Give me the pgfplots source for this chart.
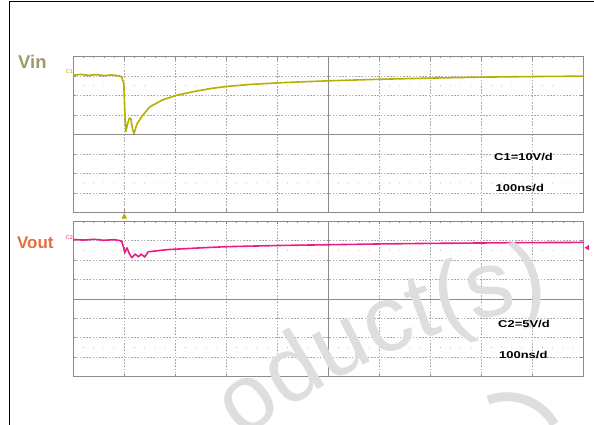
\documentclass[border=0pt]{standalone}
\usepackage{pgfplots}
\pgfplotsset{compat=1.18}
\usetikzlibrary{decorations.text}
\usepackage{fontspec}
\setmainfont{Liberation Sans}
\newfontfamily\scopefont[FakeStretch=1.3]{Liberation Sans}

\definecolor{trYel}{HTML}{B5B000}
\definecolor{trPink}{HTML}{EE1C82}
\definecolor{vinCol}{HTML}{9E9A68}
\definecolor{voutCol}{HTML}{E3703C}
\definecolor{gridCol}{HTML}{A8A8A8}
\definecolor{frameCol}{HTML}{8C8C8C}
\definecolor{wmCol}{HTML}{DEDEDE}

\pgfplotsset{
  scopegrid/.style={
    width=510bp, height=155.6bp, scale only axis,
    anchor=south west,
    xmin=0, xmax=10, ymin=-4, ymax=4,
    xtick={0,...,10}, ytick={-4,...,4},
    xticklabels={}, yticklabels={},
    grid=major,
    major grid style={gridCol, dash pattern=on 1.6bp off 1.6bp, line width=0.5bp},
    major tick length=3bp, tick align=inside,
    tick style={frameCol, line width=0.5bp},
    axis line style={frameCol, line width=0.8bp},
  },
  trace/.style={line width=1.6bp, line join=round},
}

% graticule details: centre cross, 0.2-div ticks on the centre line, dot rows at +-2.5 div
\newcommand{\graticule}{%
  \draw[frameCol, line width=0.6bp] (axis cs:0,0) -- (axis cs:10,0);
  \draw[frameCol, line width=0.6bp] (axis cs:5,-4) -- (axis cs:5,4);
  \pgfplotsinvokeforeach{0.2,0.4,...,9.9}{
    \draw[frameCol, line width=0.5bp] (axis cs:##1,0) ++(0,-1.6bp) -- ++(0,3.2bp);
    \fill[gridCol] (axis cs:##1,2.5) circle[radius=0.45bp];
    \fill[gridCol] (axis cs:##1,-2.5) circle[radius=0.45bp];
  }
}

\begin{document}
\begin{tikzpicture}
\useasboundingbox (0,0) rectangle (594bp,-425bp);
\fill[white] (0,0) rectangle (594bp,-425bp);
\draw[black, line width=1.2bp] (9.5bp,-425bp) -- (9.5bp,-1.5bp) -- (594bp,-1.5bp);

% ---- Vin panel ----
\begin{axis}[scopegrid, at={(73.3bp,-212.3bp)}]
  \graticule
  \addplot[trace, trYel] coordinates {
    (0,3.05) (0.15,3.09) (0.3,3.04) (0.45,3.08) (0.6,3.03) (0.75,3.06) (0.9,3.02)
    (0.95,2.95) (0.99,2.6) (1.01,1.2) (1.03,0.15) (1.07,0.6) (1.1,0.85) (1.13,0.8)
    (1.16,0.3) (1.19,0.05) (1.25,0.55) (1.35,0.95) (1.5,1.42) (1.75,1.78)
    (2.03,2.02) (2.35,2.2) (2.68,2.36) (3.0,2.47) (3.5,2.58) (4.05,2.66)
    (4.5,2.71) (5,2.76) (6,2.84) (7,2.9) (8,2.95) (9,2.98) (10,3.0)
  };
\end{axis}

% ---- Vout panel ----
\begin{axis}[scopegrid, at={(73.3bp,-376.6bp)}]
  \graticule
  \addplot[trace, trPink] coordinates {
    (0,3.05) (0.2,3.02) (0.4,3.06) (0.6,3.01) (0.8,3.04) (0.9,3.0)
    (0.95,2.95) (0.99,2.6) (1.01,2.37) (1.05,2.62) (1.08,2.45) (1.1,2.31)
    (1.15,2.11) (1.21,2.3) (1.28,2.16) (1.33,2.3) (1.4,2.15) (1.47,2.42)
    (1.58,2.45) (1.85,2.53) (2.5,2.62) (3,2.68) (4,2.74) (5,2.78)
    (6,2.82) (7,2.85) (8,2.87) (9,2.89) (10,2.9)
  };
\end{axis}

% ---- watermark: "Pr" runs off the bottom edge, the rest follows a wide arc ----
\path[decorate, decoration={text along path, text align=left,
      text={|\fontsize{94}{94}\selectfont\color{wmCol}|Product(s)}}]
  (219.2bp,-530.3bp) -- (243.5bp,-439.5bp)
  arc[start angle=127.6, end angle=88, radius=700bp];
\draw[wmCol, line width=9bp] (488bp,-400bp) arc[start angle=110, end angle=30, radius=55bp];

% ---- channel markers ----
\node[trYel, anchor=base east, inner sep=0pt, font=\fontsize{5.5}{6}\selectfont] at (73bp,-73.5bp) {C1};
\node[trPink, anchor=base east, inner sep=0pt, font=\fontsize{5.5}{6}\selectfont] at (73bp,-239bp) {C2};
\fill[trYel] (121.6bp,-218.5bp) -- (127bp,-218.5bp) -- (124.3bp,-213bp) -- cycle;
\fill[trPink] (584.5bp,-247.7bp) -- (589bp,-245bp) -- (589bp,-250.4bp) -- cycle;

% ---- labels ----
\node[vinCol, anchor=base west, inner sep=0pt, font=\bfseries\fontsize{18.5}{20}\selectfont] at (18bp,-68.3bp) {Vin};
\node[voutCol, anchor=base west, inner sep=0pt, font=\bfseries\fontsize{17}{19}\selectfont] at (17bp,-248.5bp) {Vout};

\node[anchor=base west, inner sep=0pt, font=\scopefont\bfseries\fontsize{10}{12}\selectfont] at (494bp,-160bp) {C1=10V/d};
\node[anchor=base west, inner sep=0pt, font=\scopefont\bfseries\fontsize{10}{12}\selectfont] at (495.5bp,-191bp) {100ns/d};
\node[anchor=base west, inner sep=0pt, font=\scopefont\bfseries\fontsize{10}{12}\selectfont] at (498bp,-327.3bp) {C2=5V/d};
\node[anchor=base west, inner sep=0pt, font=\scopefont\bfseries\fontsize{10}{12}\selectfont] at (499bp,-358.3bp) {100ns/d};
\end{tikzpicture}
\end{document}
